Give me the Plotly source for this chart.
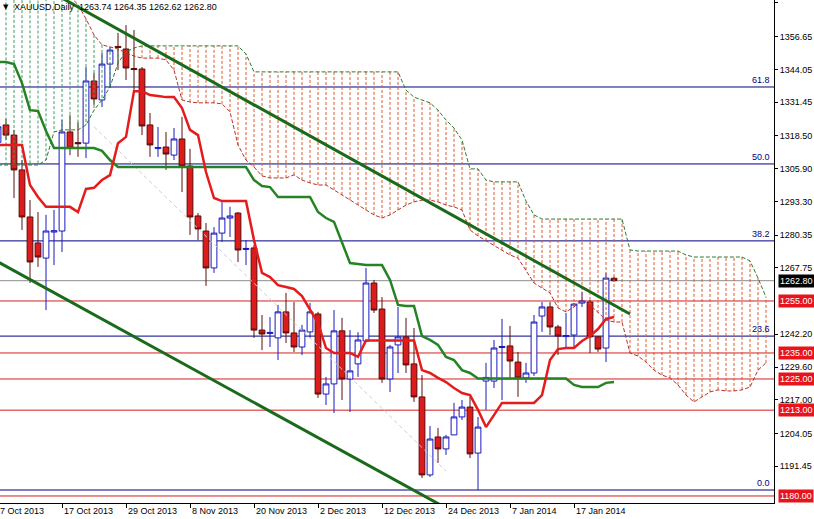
import plotly.graph_objects as go

# ---------------- data ----------------
tick_idx = [0, 8, 16, 24, 32, 40, 48, 56, 64, 72]
tick_labels = ["7 Oct 2013", "17 Oct 2013", "29 Oct 2013", "8 Nov 2013", "20 Nov 2013",
               "2 Dec 2013", "12 Dec 2013", "24 Dec 2013", "7 Jan 2014", "17 Jan 2014"]

opens = [1316.0, 1322.7, 1318.8, 1305.4, 1287.3, 1277.3, 1271.5, 1281.5, 1281.9, 1320.0,
         1315.9, 1315.7, 1339.6, 1332.3, 1346.1, 1352.9, 1351.9, 1344.4, 1344.2, 1322.7,
         1313.6, 1314.2, 1311.1, 1317.3, 1306.9, 1287.7, 1281.9, 1267.7, 1281.1, 1286.9,
         1288.8, 1274.8, 1275.4, 1243.8, 1242.5, 1240.8, 1250.8, 1242.7, 1237.3, 1243.1,
         1250.0, 1219.2, 1223.1, 1243.5, 1225.0, 1230.8, 1239.6, 1261.9, 1251.9, 1225.0,
         1238.1, 1241.2, 1230.8, 1218.1, 1188.1, 1202.7, 1198.1, 1203.5, 1210.4, 1214.2,
         1196.5, 1224.2, 1224.2, 1237.1, 1237.7, 1231.5, 1225.4, 1227.3, 1249.2, 1252.7,
         1245.0, 1241.3, 1241.9, 1254.2, 1254.6, 1241.2, 1236.9, 1263.74]
highs = [1324.0, 1325.0, 1320.8, 1309.2, 1293.8, 1289.2, 1288.1, 1290.0, 1324.6, 1326.5,
         1323.8, 1345.0, 1342.7, 1350.4, 1352.7, 1358.1, 1361.1, 1359.2, 1345.0, 1327.3,
         1321.9, 1320.0, 1321.5, 1325.8, 1313.5, 1288.8, 1285.0, 1283.4, 1293.0, 1291.2,
         1289.2, 1278.4, 1276.5, 1249.6, 1248.8, 1253.5, 1258.1, 1254.6, 1245.8, 1254.2,
         1250.8, 1225.8, 1251.5, 1248.5, 1243.8, 1243.0, 1267.7, 1263.1, 1256.5, 1238.1,
         1252.7, 1248.5, 1244.6, 1226.5, 1206.9, 1206.2, 1203.5, 1215.8, 1216.9, 1218.1,
         1210.4, 1231.2, 1240.0, 1248.1, 1245.4, 1235.4, 1231.2, 1249.6, 1254.6, 1254.6,
         1245.8, 1250.4, 1254.2, 1258.5, 1255.4, 1241.5, 1265.8, 1264.35]
lows = [1312.0, 1317.0, 1294.6, 1282.3, 1261.9, 1268.1, 1251.5, 1268.8, 1273.8, 1311.1,
        1310.4, 1310.0, 1330.4, 1329.6, 1336.9, 1343.8, 1340.0, 1336.1, 1318.8, 1310.4,
        1310.4, 1305.4, 1309.2, 1296.9, 1280.4, 1278.4, 1260.8, 1265.8, 1277.7, 1279.6,
        1270.0, 1268.8, 1240.8, 1236.1, 1237.3, 1232.3, 1238.8, 1235.4, 1234.2, 1240.8,
        1217.7, 1215.0, 1211.9, 1216.9, 1212.3, 1225.8, 1239.2, 1250.4, 1223.5, 1220.0,
        1227.3, 1227.3, 1216.2, 1186.9, 1187.3, 1192.7, 1195.8, 1203.5, 1209.2, 1194.6,
        1182.3, 1213.1, 1221.5, 1216.9, 1225.4, 1218.1, 1223.5, 1226.2, 1243.1, 1241.9,
        1234.2, 1236.9, 1236.9, 1252.7, 1235.0, 1235.4, 1231.5, 1262.62]
closes = [1322.0, 1318.8, 1305.4, 1287.3, 1270.0, 1271.9, 1281.9, 1282.0, 1320.0, 1313.8,
          1315.5, 1339.6, 1332.7, 1346.1, 1351.5, 1352.5, 1344.6, 1344.0, 1322.3, 1315.0,
          1314.0, 1311.5, 1317.3, 1306.9, 1287.3, 1282.7, 1267.7, 1281.1, 1286.9, 1287.7,
          1274.6, 1275.2, 1243.8, 1242.3, 1242.9, 1250.8, 1242.7, 1237.3, 1243.8, 1250.8,
          1219.2, 1223.1, 1243.5, 1225.0, 1228.1, 1240.0, 1261.9, 1251.5, 1225.0, 1237.3,
          1241.2, 1230.4, 1218.1, 1188.1, 1201.9, 1198.1, 1202.7, 1210.4, 1214.2, 1196.2,
          1206.5, 1225.6, 1236.9, 1237.5, 1231.9, 1225.4, 1227.3, 1246.9, 1252.7, 1245.0,
          1241.5, 1241.7, 1253.8, 1255.0, 1241.2, 1236.5, 1263.8, 1262.80]

tenkan = [1315.0, 1315.0, 1315.0, 1315.0, 1299.6, 1295.0, 1291.2, 1291.2, 1291.2, 1291.2,
          1289.2, 1298.1, 1298.5, 1301.5, 1303.4, 1315.7, 1318.1, 1335.7, 1335.7, 1334.2,
          1333.8, 1333.4, 1333.4, 1329.2, 1320.8, 1318.8, 1304.6, 1294.6, 1293.4, 1293.4,
          1293.4, 1293.4, 1278.4, 1265.8, 1264.2, 1261.1, 1260.4, 1259.6, 1256.9, 1251.9,
          1246.5, 1236.9, 1235.0, 1235.0, 1235.0, 1233.5, 1239.8, 1239.8, 1239.8, 1239.8,
          1239.8, 1239.8, 1239.8, 1228.4, 1227.3, 1225.4, 1223.8, 1221.5, 1219.6, 1218.8,
          1213.1, 1206.5, 1211.1, 1215.8, 1215.8, 1215.8, 1215.8, 1215.8, 1218.8, 1232.3,
          1236.5, 1236.9, 1236.9, 1239.6, 1241.5, 1244.2, 1248.1, 1248.8]
kijun = [1346.9, 1346.9, 1346.1, 1338.8, 1328.4, 1328.1, 1320.4, 1313.8, 1313.8, 1313.8,
         1313.8, 1313.8, 1313.8, 1312.7, 1309.2, 1306.5, 1306.5, 1306.5, 1306.5, 1306.5,
         1306.5, 1306.5, 1306.5, 1306.5, 1306.5, 1306.5, 1306.5, 1306.5, 1306.5, 1306.5,
         1306.5, 1306.5, 1301.5, 1299.2, 1298.8, 1295.0, 1295.0, 1295.0, 1295.0, 1295.0,
         1289.2, 1286.9, 1285.4, 1277.7, 1269.6, 1269.2, 1268.8, 1268.8, 1268.8, 1263.1,
         1253.5, 1253.1, 1253.1, 1241.5, 1240.0, 1238.1, 1233.5, 1232.3, 1228.4, 1227.3,
         1225.2, 1225.2, 1225.2, 1225.2, 1225.2, 1225.2, 1225.2, 1225.2, 1225.2, 1225.2,
         1225.2, 1225.2, 1222.7, 1221.9, 1221.9, 1221.9, 1223.5, 1223.8]

# Senkou spans as displayed (already shifted 26 bars forward)
span_a = [1392.0, 1391.0, 1390.0, 1388.0, 1386.0, 1384.0, 1381.0, 1378.0, 1375.0, 1372.0,
          1369.0, 1363.5, 1357.3, 1353.5, 1352.7, 1351.9, 1350.4, 1349.2, 1348.4, 1348.4,
          1348.4, 1347.7, 1343.8, 1332.3, 1331.5, 1331.2, 1331.2, 1331.2, 1330.8, 1327.7,
          1315.0, 1309.2, 1306.5, 1303.1, 1302.3, 1302.3, 1302.3, 1303.5, 1301.5, 1300.4,
          1299.6, 1299.6, 1297.7, 1295.8, 1293.8, 1291.9, 1290.0, 1288.1, 1286.9, 1288.1,
          1290.0, 1291.9, 1293.1, 1293.8, 1293.8, 1293.1, 1291.9, 1291.2, 1290.0, 1282.3,
          1280.0, 1278.1, 1276.5, 1274.6, 1272.7, 1271.5, 1266.9, 1261.9, 1260.0, 1258.1,
          1252.3, 1250.8, 1252.7, 1255.4, 1253.5, 1250.4, 1247.7, 1246.9, 1246.9, 1235.0,
          1233.8, 1231.5, 1228.4, 1226.5, 1225.4, 1222.7, 1218.8, 1216.2, 1218.1, 1220.0,
          1220.8, 1220.4, 1220.4, 1220.8, 1221.9, 1228.4, 1231.2]
span_b = [1307.3, 1307.3, 1307.3, 1307.3, 1307.3, 1307.3, 1309.2, 1320.0, 1320.8, 1320.8,
          1320.8, 1322.7, 1328.4, 1332.3, 1337.3, 1346.5, 1350.8, 1352.3, 1353.1, 1353.1,
          1353.1, 1353.1, 1353.1, 1353.1, 1353.1, 1353.1, 1353.1, 1353.1, 1353.1, 1353.1,
          1353.1, 1350.0, 1343.1, 1343.1, 1343.1, 1343.1, 1343.1, 1343.1, 1343.1, 1343.1,
          1343.1, 1343.1, 1343.1, 1343.1, 1343.1, 1343.1, 1343.1, 1343.1, 1343.1, 1343.1,
          1343.1, 1336.1, 1333.4, 1332.3, 1331.2, 1328.4, 1324.6, 1321.5, 1316.9, 1305.8,
          1305.8, 1301.5, 1300.8, 1300.8, 1300.8, 1300.8, 1293.4, 1288.1, 1286.5, 1286.5,
          1286.5, 1286.5, 1286.5, 1286.5, 1286.5, 1286.5, 1286.5, 1286.5, 1286.5, 1274.6,
          1274.2, 1274.2, 1274.2, 1274.2, 1274.2, 1274.2, 1272.7, 1271.9, 1271.9, 1271.9,
          1271.9, 1271.9, 1271.9, 1271.9, 1270.4, 1263.8, 1256.5]

# trend lines: (bar index, price) end points
upper_trend_x = [8, 79]
upper_trend_y = [1371.5, 1250.0]
lower_trend_x = [0, 57]
lower_trend_y = [1270.0, 1173.7]
gray_trend_x = [12, 56]
gray_trend_y = [1322.0, 1189.6]

fib_low, fib_high = 1182.3, 1433.1
fib_ratios = [0.618, 0.5, 0.382, 0.236, 0.0]
fib_names = ["61.8", "50.0", "38.2", "23.6", "0.0"]
red_levels = [1255.00, 1235.00, 1225.00, 1213.00, 1180.00]
bid_price = 1262.80

price_ticks = [1369.60, 1356.65, 1344.05, 1331.45, 1318.50, 1305.90, 1293.30, 1280.35,
               1267.75, 1242.20, 1229.60, 1217.00, 1204.05, 1191.45]

header = "XAUUSD,Daily  1263.74 1264.35 1262.62 1262.80"

# ---------------- figure ----------------
FONT = "Liberation Sans, Arial, sans-serif"
X_RANGE = [0.25, 97.0]
fig = go.Figure()

# cloud hatch
gx, gy, rx, ry = [], [], [], []
for i, (a, b) in enumerate(zip(span_a, span_b)):
    if a >= b:
        gx += [i, i, None]; gy += [a, b, None]
    else:
        rx += [i, i, None]; ry += [a, b, None]
fig.add_trace(go.Scatter(x=gx, y=gy, mode="lines", line=dict(color="#3f9a62", width=1, dash="3px,2px"),
                         hoverinfo="skip", showlegend=False))
fig.add_trace(go.Scatter(x=rx, y=ry, mode="lines", line=dict(color="#e0582e", width=1, dash="3px,2px"),
                         hoverinfo="skip", showlegend=False))
xs_span = list(range(len(span_a)))
fig.add_trace(go.Scatter(x=xs_span, y=span_b, mode="lines", line=dict(color="#2c7a2c", width=1, dash="4px,2px"),
                         hoverinfo="skip", showlegend=False))
fig.add_trace(go.Scatter(x=xs_span, y=span_a, mode="lines", line=dict(color="#b8322a", width=1, dash="4px,2px"),
                         hoverinfo="skip", showlegend=False))

# faint gray trend line
fig.add_trace(go.Scatter(x=gray_trend_x, y=gray_trend_y, mode="lines",
                         line=dict(color="#cfcfcf", width=1, dash="4px,3px"), hoverinfo="skip", showlegend=False))

bars = list(range(len(opens)))
fig.add_trace(go.Candlestick(
    x=bars, open=opens, high=highs, low=lows, close=closes,
    increasing=dict(line=dict(color="#1a1ac0", width=1), fillcolor="#ffffff"),
    decreasing=dict(line=dict(color="#5a0c0c", width=1), fillcolor="#dc1c1c"),
    whiskerwidth=0, hoverinfo="skip", showlegend=False))

fig.add_trace(go.Scatter(x=bars, y=kijun, mode="lines", line=dict(color="#248424", width=2.5),
                         hoverinfo="skip", showlegend=False))
fig.add_trace(go.Scatter(x=bars, y=tenkan, mode="lines", line=dict(color="#e41c1c", width=2.5),
                         hoverinfo="skip", showlegend=False))

fig.add_trace(go.Scatter(x=upper_trend_x, y=upper_trend_y, mode="lines", line=dict(color="#1b6a1b", width=3),
                         hoverinfo="skip", showlegend=False))
fig.add_trace(go.Scatter(x=lower_trend_x, y=lower_trend_y, mode="lines", line=dict(color="#1b6a1b", width=3),
                         hoverinfo="skip", showlegend=False))

shapes = []
annotations = []
for r, name in zip(fib_ratios, fib_names):
    lvl = fib_low + r * (fib_high - fib_low)
    shapes.append(dict(type="line", xref="paper", x0=0, x1=1, yref="y", y0=lvl, y1=lvl,
                       line=dict(color="#000080", width=1), layer="below"))
    annotations.append(dict(xref="paper", x=1, xanchor="right", xshift=-2, yref="y", y=lvl,
                            yanchor="bottom", text=name, showarrow=False,
                            font=dict(family=FONT, size=9, color="#000080")))
for lvl in red_levels:
    shapes.append(dict(type="line", xref="paper", x0=0, x1=1, yref="y", y0=lvl, y1=lvl,
                       line=dict(color="#d42020", width=1), layer="below"))
    annotations.append(dict(xref="paper", x=1, xanchor="left", xshift=4, yref="y", y=lvl,
                            text="%.2f" % lvl, showarrow=False, bgcolor="#e8141c", borderpad=1,
                            font=dict(family=FONT, size=9, color="#ffffff")))
shapes.append(dict(type="line", xref="paper", x0=0, x1=1, yref="y", y0=bid_price, y1=bid_price,
                   line=dict(color="#8c8c8c", width=1), layer="below"))
annotations.append(dict(xref="paper", x=1, xanchor="left", xshift=4, yref="y", y=bid_price,
                        text="%.2f" % bid_price, showarrow=False, bgcolor="#000000", borderpad=1,
                        font=dict(family=FONT, size=9, color="#000000" if False else "#ffffff")))

# date labels, left-aligned just right of their tick (MetaTrader style)
for ti, tl in zip(tick_idx, tick_labels):
    frac = (ti - X_RANGE[0]) / (X_RANGE[1] - X_RANGE[0])
    annotations.append(dict(xref="paper", x=frac, xanchor="left", xshift=0, yref="paper", y=0,
                            yanchor="top", yshift=-1, text=tl, showarrow=False,
                            font=dict(family=FONT, size=9, color="#000000")))

annotations.append(dict(xref="paper", x=0, xanchor="left", xshift=1, yref="paper", y=1, yanchor="top",
                        yshift=-1, text="▼", showarrow=False, font=dict(family="DejaVu Sans", size=7, color="#000000")))
annotations.append(dict(xref="paper", x=0, xanchor="left", xshift=12, yref="paper", y=1, yanchor="top",
                        yshift=0, text=header, showarrow=False, font=dict(family=FONT, size=9, color="#000000")))

fig.update_layout(
    width=814, height=519,
    margin=dict(l=0, r=40, t=0, b=16, autoexpand=False),
    paper_bgcolor="#ffffff", plot_bgcolor="#ffffff",
    showlegend=False, boxgap=0.15, boxgroupgap=0.15,
    shapes=shapes, annotations=annotations,
    xaxis=dict(range=X_RANGE, showgrid=False, zeroline=False, showline=True, linecolor="#000000",
               linewidth=1, ticks="outside", ticklen=4, tickcolor="#000000", tickvals=tick_idx,
               showticklabels=False, rangeslider=dict(visible=False), fixedrange=True, automargin=False),
    yaxis=dict(range=[1177.3, 1370.75], side="right", showgrid=False, zeroline=False, showline=True,
               linecolor="#000000", linewidth=1, ticks="outside", ticklen=3, tickcolor="#000000",
               tickvals=price_ticks, ticktext=["%.2f" % v for v in price_ticks],
               tickfont=dict(family=FONT, size=9, color="#000000"), fixedrange=True, automargin=False),
)

fig.write_html("out.html", config={"displayModeBar": False},
               post_script="document.body.style.margin='0';document.body.style.padding='0';")
